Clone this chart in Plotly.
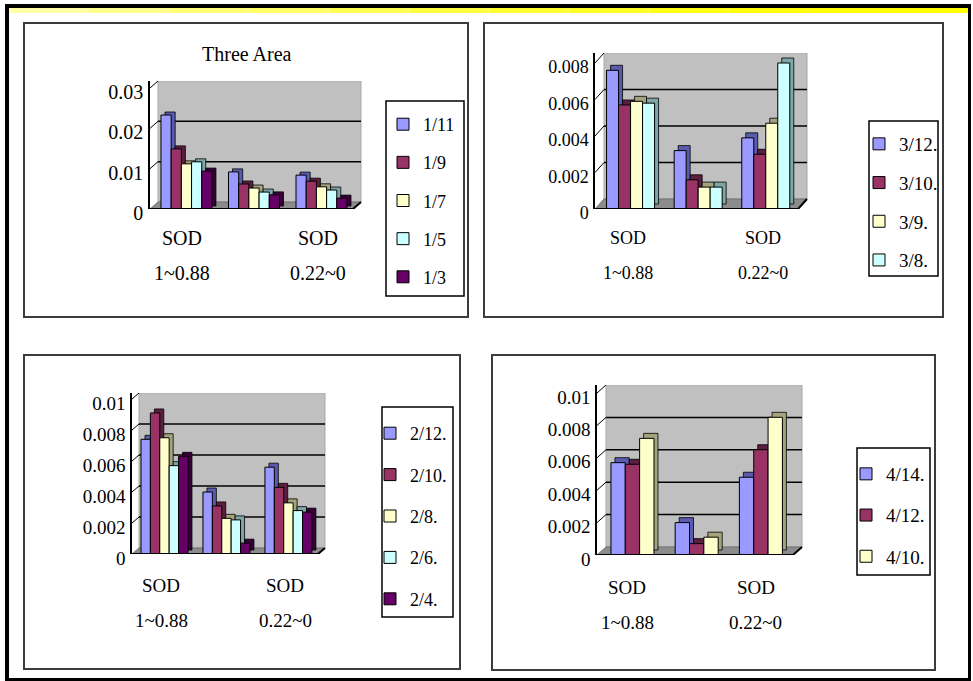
import plotly.graph_objects as go

W, H = 973, 681
FONT = "Liberation Serif"

# Category axis: three SOD bands; the middle group has no printed label
cat_x = [0, 1, 2]
cat_line1 = ["SOD", "", "SOD"]
cat_line2 = ["1~0.88", "", "0.22~0"]

# Panel 1 – Three Area
p1_dates = ["1/11", "1/9", "1/7", "1/5", "1/3"]
p1_values = [
    [0.0233, 0.0092, 0.0084],
    [0.0149, 0.0062, 0.0069],
    [0.0112, 0.0052, 0.0055],
    [0.0117, 0.0042, 0.0047],
    [0.0094, 0.0035, 0.0027],
]
p1_ticks = [0, 0.01, 0.02, 0.03]
p1_ticktext = ["0", "0.01", "0.02", "0.03"]

# Panel 2 – March
p2_dates = ["3/12.", "3/10.", "3/9.", "3/8."]
p2_values = [
    [0.0076, 0.0032, 0.0039],
    [0.0057, 0.0016, 0.0030],
    [0.0059, 0.0012, 0.0047],
    [0.0058, 0.0012, 0.0080],
]
p2_ticks = [0, 0.002, 0.004, 0.006, 0.008]
p2_ticktext = ["0", "0.002", "0.004", "0.006", "0.008"]

# Panel 3 – February
p3_dates = ["2/12.", "2/10.", "2/8.", "2/6.", "2/4."]
p3_values = [
    [0.0074, 0.0040, 0.0056],
    [0.0091, 0.0031, 0.0043],
    [0.0075, 0.0023, 0.0033],
    [0.0057, 0.0022, 0.0028],
    [0.0063, 0.0007, 0.0027],
]
p3_ticks = [0, 0.002, 0.004, 0.006, 0.008, 0.01]
p3_ticktext = ["0", "0.002", "0.004", "0.006", "0.008", "0.01"]

# Panel 4 – April
p4_dates = ["4/14.", "4/12.", "4/10."]
p4_values = [
    [0.0057, 0.0020, 0.0048],
    [0.0056, 0.0007, 0.0065],
    [0.0072, 0.0011, 0.0085],
]
p4_ticks = [0, 0.002, 0.004, 0.006, 0.008, 0.01]
p4_ticktext = ["0", "0.002", "0.004", "0.006", "0.008", "0.01"]

face_colors = ["#9999FF", "#993366", "#FFFFCC", "#CCFFFF", "#660066"]
side_colors = ["#5A5AAE", "#5C1E3E", "#A3A37E", "#7EA6A6", "#380038"]
WALL = "#C0C0C0"
FLOOR = "#8C8C8C"

# Layout of each chart in pixels (front axis, wall, frame, legend)
panels = [
    dict(dates=p1_dates, values=p1_values, ticks=p1_ticks, ticktext=p1_ticktext,
         axis_px=150, wall_right_px=361, base_px=209, front_top_px=88, wall_top_px=81,
         xrange=(-0.54, 2.585), group=0.755, bar_dx=4, bar_dy=3, wall_dx=8,
         font=20, cat_y=(238, 273), cat_shift=-4,
         legend_xy=(383, 106), legend_gap=11.75, legend_font=18,
         legend_box=(386, 101, 464, 296),
         frame=(24, 23, 468, 317)),
    dict(dates=p2_dates, values=p2_values, ticks=p2_ticks, ticktext=p2_ticktext,
         axis_px=595, wall_right_px=807, base_px=209, front_top_px=63, wall_top_px=53,
         xrange=(-0.526, 2.61), group=0.71, bar_dx=4, bar_dy=5, wall_dx=9,
         font=18, cat_y=(238, 273), cat_shift=-3,
         legend_xy=(859, 125), legend_gap=11, legend_font=19,
         legend_box=(869, 121, 938, 276),
         frame=(484, 23, 943, 317)),
    dict(dates=p3_dates, values=p3_values, ticks=p3_ticks, ticktext=p3_ticktext,
         axis_px=132, wall_right_px=325, base_px=554, front_top_px=399, wall_top_px=393,
         xrange=(-0.524, 2.59), group=0.758, bar_dx=4, bar_dy=4, wall_dx=7,
         font=19, cat_y=(585, 620), cat_shift=-3,
         legend_xy=(370, 415), legend_gap=15, legend_font=18,
         legend_box=(382, 407, 453, 617),
         frame=(24, 355, 460, 669)),
    dict(dates=p4_dates, values=p4_values, ticks=p4_ticks, ticktext=p4_ticktext,
         axis_px=597, wall_right_px=802, base_px=555, front_top_px=393, wall_top_px=385,
         xrange=(-0.552, 2.64), group=0.67, bar_dx=4, bar_dy=5, wall_dx=9,
         font=19, cat_y=(587, 622), cat_shift=-5,
         legend_xy=(846, 455), legend_gap=13.5, legend_font=19,
         legend_box=(857, 448, 930, 575),
         frame=(492, 355, 935, 670)),
]


def paper_rect(x0, y0, x1, y1, **kw):
    return dict(type="rect", xref="paper", yref="paper",
                x0=x0 / W, x1=x1 / W, y0=1 - y1 / H, y1=1 - y0 / H, **kw)


fig = go.Figure()
shapes = []
annotations = []
layout_axes = {}

for n, p in enumerate(panels, start=1):
    sfx = "" if n == 1 else str(n)
    xa, ya = f"x{sfx}", f"y{sfx}"
    legend_name = "legend" if n == 1 else f"legend{n}"

    unit_per_px = p["ticks"][-1] / (p["base_px"] - p["front_top_px"])
    range_top = (p["base_px"] - p["wall_top_px"]) * unit_per_px
    wall_dy = (p["front_top_px"] - p["wall_top_px"]) * unit_per_px
    plot_w = p["wall_right_px"] - p["axis_px"]
    px_per_cat = plot_w / (p["xrange"][1] - p["xrange"][0])
    wall_fx = p["wall_dx"] / plot_w
    bar_dx_u = p["bar_dx"] / px_per_cat
    bar_dy_u = p["bar_dy"] * unit_per_px

    k = len(p["dates"])
    w = p["group"] / k
    for i, (date, vals) in enumerate(zip(p["dates"], p["values"])):
        off = -p["group"] / 2 + i * w
        # top/side faces of the 3-D column
        fig.add_trace(go.Bar(
            x=cat_x, y=vals, base=bar_dy_u, width=w, offset=off + bar_dx_u,
            marker=dict(color=side_colors[i], line=dict(color="black", width=0.8)),
            opacity=1, showlegend=False, hoverinfo="skip", xaxis=xa, yaxis=ya))
        # front face
        fig.add_trace(go.Bar(
            x=cat_x, y=vals, width=w, offset=off, name=date,
            marker=dict(color=face_colors[i], line=dict(color="black", width=1)),
            opacity=1, legend=legend_name, legendgroup=f"p{n}s{i}",
            xaxis=xa, yaxis=ya))

    # back wall, floor, gridlines
    shapes.append(dict(type="rect", xref=f"{xa} domain", yref=ya, layer="below",
                       x0=wall_fx, x1=1, y0=wall_dy, y1=range_top,
                       fillcolor=WALL, line=dict(color="#A8A8A8", width=1)))
    shapes.append(dict(type="path", xref=f"{xa} domain", yref=ya, layer="below",
                       path=f"M 0 0 L {1 - wall_fx} 0 L 1 {wall_dy} L {wall_fx} {wall_dy} Z",
                       fillcolor=FLOOR, line=dict(color="#707070", width=1)))
    for t in p["ticks"][1:-1]:
        shapes.append(dict(type="line", xref=f"{xa} domain", yref=ya, layer="below",
                           x0=wall_fx, x1=1, y0=t + wall_dy, y1=t + wall_dy,
                           line=dict(color="black", width=1.5)))
    for t in p["ticks"][1:]:
        shapes.append(dict(type="line", xref=f"{xa} domain", yref=ya,
                           x0=0, x1=wall_fx, y0=t, y1=t + wall_dy,
                           line=dict(color="black", width=1)))
    # front edge of the floor
    shapes.append(dict(type="path", xref=f"{xa} domain", yref=ya,
                       path=f"M 0 0 L {1 - wall_fx} 0 L 1 {wall_dy}",
                       line=dict(color="black", width=2)))

    layout_axes[f"xaxis{sfx}"] = dict(
        domain=[p["axis_px"] / W, p["wall_right_px"] / W], anchor=ya,
        range=list(p["xrange"]), showgrid=False, zeroline=False, showline=False,
        showticklabels=False, ticks="", fixedrange=True, automargin=False)
    layout_axes[f"yaxis{sfx}"] = dict(
        domain=[1 - p["base_px"] / H, 1 - p["wall_top_px"] / H], anchor=xa,
        range=[0, range_top], showgrid=False, zeroline=False,
        showline=True, linecolor="black", linewidth=1.5,
        tickmode="array", tickvals=p["ticks"], ticktext=p["ticktext"],
        ticks="", ticklabelstandoff=1, ticklabelshift=4, automargin=False,
        tickfont=dict(family=FONT, size=p["font"], color="black"), fixedrange=True)

    layout_axes[legend_name] = dict(
        x=p["legend_xy"][0] / W, y=1 - p["legend_xy"][1] / H,
        xanchor="left", yanchor="top", bgcolor="rgba(0,0,0,0)", borderwidth=0,
        font=dict(family=FONT, size=p["legend_font"], color="black"),
        traceorder="grouped", tracegroupgap=p["legend_gap"], itemclick=False)
    bx0, by0, bx1, by1 = p["legend_box"]
    shapes.append(paper_rect(bx0, by0, bx1, by1, line=dict(color="black", width=1.5)))

    for xi, l1, l2 in zip(cat_x, cat_line1, cat_line2):
        if not l1:
            continue
        for txt, ypx in ((l1, p["cat_y"][0]), (l2, p["cat_y"][1])):
            annotations.append(dict(x=xi, xref=xa, y=1 - ypx / H, yref="paper",
                                    text=txt, showarrow=False, xshift=p["cat_shift"],
                                    xanchor="center", yanchor="middle",
                                    font=dict(family=FONT, size=p["font"], color="black")))

    fx0, fy0, fx1, fy1 = p["frame"]
    shapes.append(paper_rect(fx0, fy0, fx1, fy1, line=dict(color="#3C3C3C", width=2)))

annotations.append(dict(x=247 / W, y=1 - 54 / H, xref="paper", yref="paper",
                        text="Three Area", showarrow=False,
                        xanchor="center", yanchor="middle",
                        font=dict(family=FONT, size=20, color="black")))

# page border with yellow header strip
n_seg = 12
for s in range(n_seg):
    t = s / (n_seg - 1)
    b = int(165 * (1 - t) ** 1.5)
    shapes.append(paper_rect(9 + s * (959 / n_seg), 8, 9 + (s + 1) * (959 / n_seg), 13,
                             fillcolor=f"rgb(255,255,{b})", line=dict(width=0)))
shapes.append(paper_rect(5, 4, 971, 8, fillcolor="black", line=dict(width=0)))
shapes.append(paper_rect(5, 4, 9, 681, fillcolor="black", line=dict(width=0)))
shapes.append(paper_rect(968, 4, 971, 681, fillcolor="black", line=dict(width=0)))
shapes.append(paper_rect(5, 678, 971, 681, fillcolor="black", line=dict(width=0)))

fig.update_layout(
    width=W, height=H, margin=dict(l=0, r=0, t=0, b=0, autoexpand=False),
    paper_bgcolor="white", plot_bgcolor="rgba(0,0,0,0)",
    barmode="overlay", showlegend=True, hovermode=False,
    shapes=shapes, annotations=annotations, **layout_axes)

fig.write_html("out.html")
